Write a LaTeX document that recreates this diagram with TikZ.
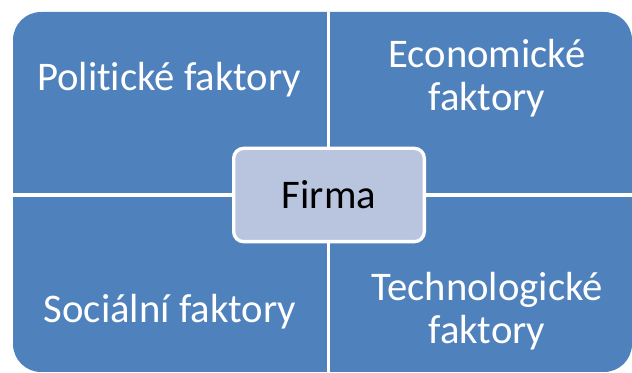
\documentclass[tikz,border=0pt]{standalone}
\usepackage{fontspec}
\setmainfont[Ligatures=NoCommon]{Carlito}

\definecolor{quadblue}{RGB}{79,129,189}
\definecolor{firmafill}{RGB}{185,196,222}

\tikzset{
  factor/.style={text=white, align=center, font=\fontsize{30.5}{32.5}\selectfont},
  centerbox/.style={draw=white, line width=2.5pt, fill=firmafill, rounded corners=7.5pt,
    minimum width=143pt, minimum height=70pt, font=\fontsize{30.5}{32.5}\selectfont}
}

\begin{document}
\begin{tikzpicture}[x=0.75pt,y=0.75pt,yscale=-1,xscale=1]
\useasboundingbox (0,0) rectangle (632,373);

%Shape: Rounded Rect 
\fill [quadblue, rounded corners=21pt] (13,12) rectangle (632,372) ;
%Straight Lines 
\draw [white, line width=2.4pt] (328.5,12) -- (328.5,372) ;
%Straight Lines 
\draw [white, line width=3pt] (13,195) -- (632,195) ;

%Text
\node [factor] (polit) at (169,80) {Politické faktory};
\node [factor] (econ) at (487,78) {Economické\\faktory};
\node [factor] (soc) at (170,312) {Sociální faktory};
\node [factor] (tech) at (487,311) {Technologické\\faktory};

%Center
\node [centerbox] (firma) at (329,195) {Firma};

\end{tikzpicture}
\end{document}
